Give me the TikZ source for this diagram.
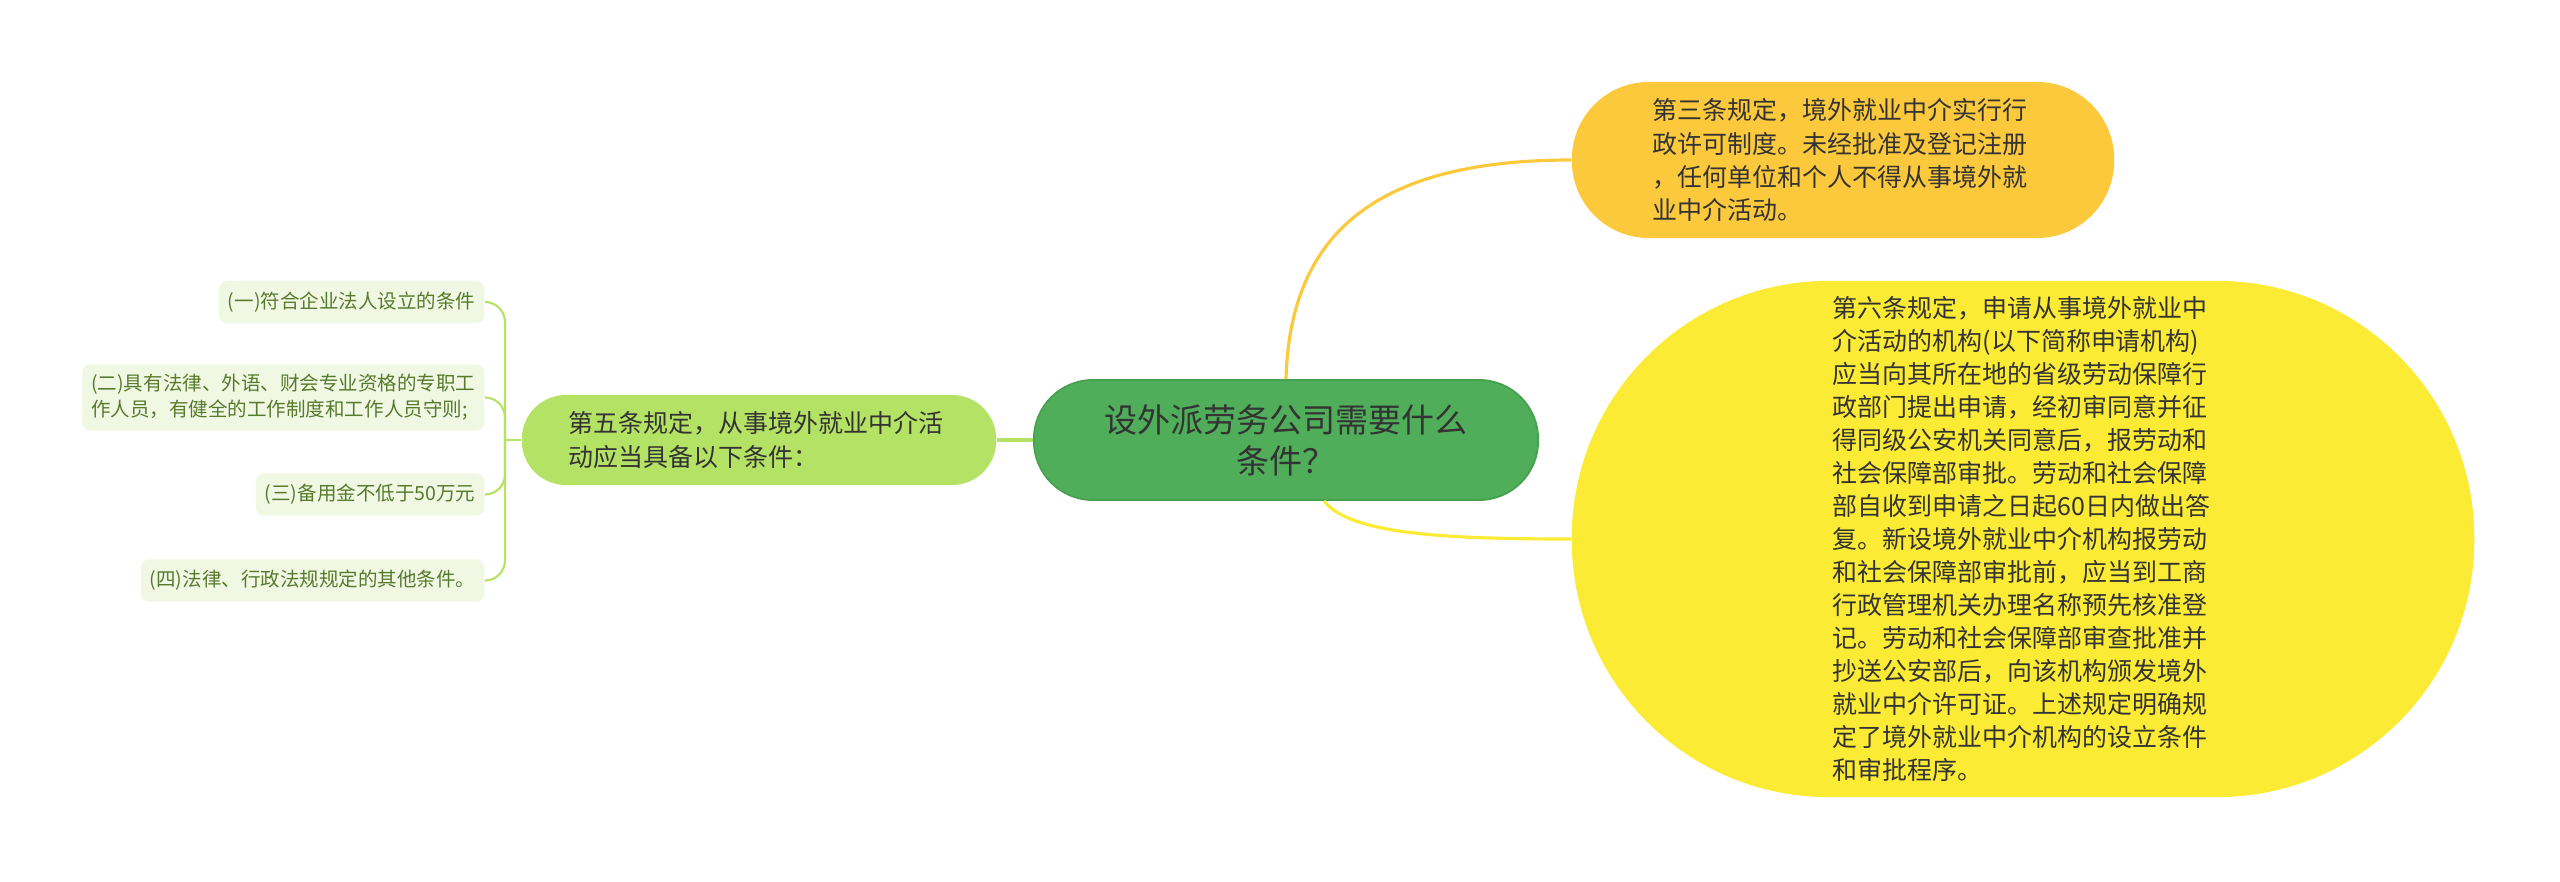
\documentclass[tikz,border=0pt]{standalone}
\usepackage{fontspec}
\setmainfont{Noto Sans CJK SC}
\definecolor{rootgreen}{HTML}{50AE5A}
\definecolor{rootedge}{HTML}{45A050}
\definecolor{limegreen}{HTML}{B4E264}
\definecolor{leaffill}{HTML}{F0F8E4}
\definecolor{leaftext}{HTML}{587A2C}
\definecolor{goldfill}{HTML}{FCC93C}
\definecolor{lemonfill}{HTML}{FCEB35}
\definecolor{darktext}{HTML}{333333}
\tikzset{
	rootbox/.style = {fill = rootgreen, draw = rootedge, line width = 0.5pt, text = darktext, rounded corners = 0.59cm, minimum width = 5.04cm, minimum height = 1.2cm, inner sep = 0pt, align = center, font = \fontsize{9.4pt}{11.7pt}\selectfont},
	midbox/.style = {text = darktext, inner sep = 0pt, text width = 3.8cm, align = left, font = \fontsize{7.1pt}{9.4pt}\selectfont},
	leafbox/.style = {fill = leaffill, text = leaftext, rounded corners = 0.08cm, inner xsep = 0.09cm, inner ysep = 0.1cm, minimum height = 0.42cm, anchor = east, align = left, font = \fontsize{5.55pt}{7.4pt}\selectfont},
	twig/.style = {limegreen, line width = 0.6pt, rounded corners = 0.2cm},
	branch/.style = {line width = 0.9pt}
}
\begin{document}
\begin{tikzpicture} [x = 0.01cm, y = -0.01cm]
	\useasboundingbox (0,0) rectangle (2560,882);
	\node [rootbox] (root) at (1286,440) {设外派劳务公司需要什么\\条件？};
	\node [midbox, fill = limegreen, rounded corners = 0.44cm, minimum width = 4.74cm, minimum height = 0.9cm] (art5) at (759,440) {第五条规定，从事境外就业中介活\\动应当具备以下条件：};
	\node [midbox, fill = goldfill, rounded corners = 0.77cm, minimum width = 5.42cm, minimum height = 1.56cm] (art3) at (1843,160) {第三条规定，境外就业中介实行行\\政许可制度。未经批准及登记注册\\，任何单位和个人不得从事境外就\\业中介活动。};
	\node [midbox, fill = lemonfill, rounded corners = 2.57cm, minimum width = 9.02cm, minimum height = 5.16cm] (art6) at (2023,539) {第六条规定，申请从事境外就业中\\介活动的机构(以下简称申请机构)\\应当向其所在地的省级劳动保障行\\政部门提出申请，经初审同意并征\\得同级公安机关同意后，报劳动和\\社会保障部审批。劳动和社会保障\\部自收到申请之日起60日内做出答\\复。新设境外就业中介机构报劳动\\和社会保障部审批前，应当到工商\\行政管理机关办理名称预先核准登\\记。劳动和社会保障部审查批准并\\抄送公安部后，向该机构颁发境外\\就业中介许可证。上述规定明确规\\定了境外就业中介机构的设立条件\\和审批程序。};
	% conditions of article 5
	\node [leafbox] (cond1) at (485,302) {(一)符合企业法人设立的条件};
	\node [leafbox] (cond2) at (485,397.5) {(二)具有法律、外语、财会专业资格的专职工\\作人员，有健全的工作制度和工作人员守则;};
	\node [leafbox] (cond3) at (485,494.5) {(三)备用金不低于50万元};
	\node [leafbox] (cond4) at (485,580.5) {(四)法律、行政法规规定的其他条件。};
	\coordinate (fork) at (505,440);
	\draw [branch, limegreen] (root.west) -- (art5.east);
	\draw [twig] (art5.west) -- (fork);
	\foreach \c in {cond1,cond2,cond3,cond4}
		\draw [twig] (fork) |- (\c.east);
	\draw [branch, goldfill] (root.north) .. controls (1290,230) and (1380,160) .. (art3.west);
	\draw [branch, lemonfill] (root.-58) .. controls (1350,535) and (1450,539) .. (art6.west);
\end{tikzpicture}
\end{document}
